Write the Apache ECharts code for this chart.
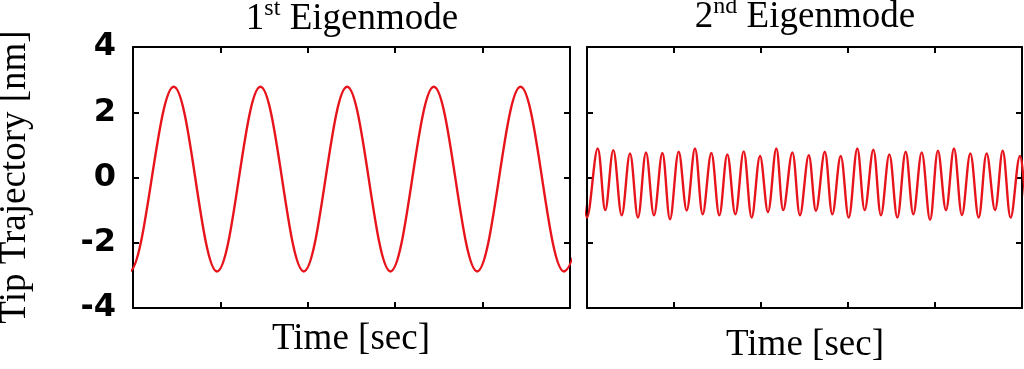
<!DOCTYPE html>
<html><head><meta charset="utf-8">
<script src="https://cdn.jsdelivr.net/npm/echarts@6/dist/echarts.min.js"></script>
<style>html,body{margin:0;padding:0;background:#fff}#c{width:1024px;height:369px}</style>
</head><body><div id="c"></div>
<script>
// ---- texts ----
const titleMain = ['1', '2'];
const titleSup = ['st', 'nd'];
const titleRest = ' Eigenmode';
const xTitle = 'Time [sec]';
const yTitle = 'Tip Trajectory [nm]';
const yMin = -4, yMax = 4, yStep = 2;
const xMin = 0, xMax = 5, xStep = 1;

// ---- 1st eigenmode: extremes (time, value); first/last lie outside the frame ----
const leftTime  = [-0.536, -0.04, 0.466, 0.962, 1.458, 1.954, 2.450, 2.946, 3.442, 3.938, 4.434, 4.930, 5.426];
const leftValue = [2.78, -2.88, 2.78, -2.88, 2.78, -2.88, 2.78, -2.88, 2.78, -2.88, 2.78, -2.88, 2.78];

// ---- 2nd eigenmode: extremes (time, value); first/last lie outside the frame ----
const rightTime = [-0.09, 0.00, 0.123, 0.210, 0.302, 0.399, 0.494, 0.586, 0.678, 0.770, 0.866,
  0.954, 1.054, 1.146, 1.241, 1.330, 1.429, 1.521, 1.613, 1.705, 1.801,
  1.893, 1.989, 2.080, 2.176, 2.256, 2.360, 2.448, 2.549, 2.632, 2.733,
  2.820, 2.916, 3.008, 3.107, 3.192, 3.291, 3.379, 3.475, 3.567, 3.663,
  3.751, 3.847, 3.943, 4.034, 4.126, 4.218, 4.310, 4.406, 4.502, 4.594,
  4.690, 4.778, 4.870, 4.976, 5.070, 5.160];
const rightValue = [0.80, -1.23, 0.89, -1.00, 0.84, -1.16, 0.74, -1.23, 0.77, -1.16, 0.75,
  -1.28, 0.79, -1.01, 0.89, -1.13, 0.75, -1.16, 0.71, -1.13, 0.80,
  -1.23, 0.66, -1.06, 0.89, -1.00, 0.77, -1.16, 0.68, -1.02, 0.79,
  -1.13, 0.66, -1.23, 0.89, -1.00, 0.85, -1.16, 0.71, -1.23, 0.79,
  -1.13, 0.77, -1.30, 0.82, -1.00, 0.89, -1.15, 0.74, -1.23, 0.74,
  -1.00, 0.82, -1.23, 0.66, -1.15, 0.80];

const pairs = (t, v) => t.map((x, i) => [x, v[i]]);

const serif = '"Liberation Serif", "Times New Roman", serif';
const lineStyle = { color: '#000', width: 2 };
const tick = { show: true, inside: true, length: 6, lineStyle: { color: '#000', width: 2 } };

function xAx(grid, pos) {
  return { type: 'value', gridIndex: grid, position: pos, min: xMin, max: xMax, interval: xStep,
    axisLine: { show: true, onZero: false, lineStyle }, axisTick: tick,
    axisLabel: { show: false }, splitLine: { show: false } };
}
function yAx(grid, pos, labels) {
  return { type: 'value', gridIndex: grid, position: pos, min: yMin, max: yMax, interval: yStep,
    axisLine: { show: true, onZero: false, lineStyle }, axisTick: tick,
    axisLabel: { show: labels, margin: 17, color: '#000', fontFamily: '"DejaVu Sans", sans-serif',
      fontWeight: 'bold', fontSize: 32 },
    splitLine: { show: false } };
}

function titleText(i, x, y) {
  return { type: 'text', x: x, y: y,
    style: { text: '{a|' + titleMain[i] + '}{b|' + titleSup[i] + '}{a|' + titleRest + '}',
      align: 'center', verticalAlign: 'middle', fill: '#000',
      rich: {
        a: { fontSize: 37, fontFamily: serif, lineHeight: 44, fill: '#000' },
        b: { fontSize: 24, fontFamily: serif, lineHeight: 30, verticalAlign: 'top', fill: '#000' }
      } } };
}

const chart = echarts.init(document.getElementById('c'), null, { renderer: 'canvas' });
chart.setOption({
  animation: false,
  backgroundColor: '#fff',
  grid: [
    { left: 133, right: 454, top: 47, bottom: 61 },
    { left: 587, right: 2, top: 47, bottom: 61 }
  ],
  xAxis: [xAx(0, 'bottom'), xAx(0, 'top'), xAx(1, 'bottom'), xAx(1, 'top')],
  yAxis: [yAx(0, 'left', true), yAx(0, 'right', false), yAx(1, 'left', false), yAx(1, 'right', false)],
  series: [
    { type: 'line', xAxisIndex: 0, yAxisIndex: 0, data: pairs(leftTime, leftValue),
      smooth: 0.36, showSymbol: false, lineStyle: { color: '#e8141c', width: 2.4 } },
    { type: 'line', xAxisIndex: 2, yAxisIndex: 2, data: pairs(rightTime, rightValue),
      smooth: 0.36, showSymbol: false, lineStyle: { color: '#e8141c', width: 2.4 } }
  ],
  graphic: [
    titleText(0, 352, 19),
    titleText(1, 805, 17),
    { type: 'text', x: 351, y: 339, style: { text: xTitle, font: '37px ' + serif, align: 'center', verticalAlign: 'middle', fill: '#000' } },
    { type: 'text', x: 805, y: 345, style: { text: xTitle, font: '37px ' + serif, align: 'center', verticalAlign: 'middle', fill: '#000' } },
    { type: 'text', x: 15, y: 177, rotation: Math.PI / 2,
      style: { text: yTitle, font: '37px ' + serif, align: 'center', verticalAlign: 'middle', fill: '#000' } }
  ]
});
</script></body></html>
